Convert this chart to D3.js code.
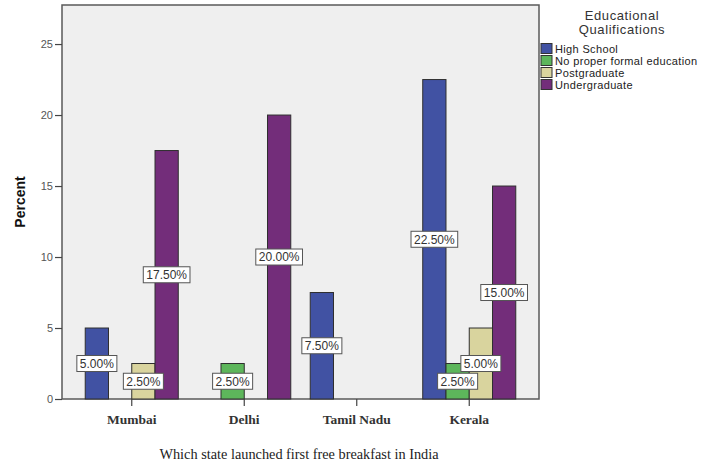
<!DOCTYPE html>
<html>
<head>
<meta charset="utf-8">
<script src="https://cdn.jsdelivr.net/npm/d3@7"></script>
<style>
  html, body { margin: 0; padding: 0; background: #fff; }
  svg { display: block; }
</style>
</head>
<body>
<svg id="chart" width="707" height="465"></svg>
<script>
// ---- data ----
const categories = ["Mumbai", "Delhi", "Tamil Nadu", "Kerala"];
const seriesNames = ["High School", "No proper formal education", "Postgraduate", "Undergraduate"];
const highSchool   = [5.0, 0, 7.5, 22.5];
const noFormal     = [0, 2.5, 0, 2.5];
const postgraduate = [2.5, 0, 0, 5.0];
const undergrad    = [17.5, 20.0, 0, 15.0];
const yTicks = [0, 5, 10, 15, 20, 25];
const legendTitle = ["Educational", "Qualifications"];
const yTitle = "Percent";
const xTitle = "Which state launched first free breakfast in India";

const seriesValues = [highSchool, noFormal, postgraduate, undergrad];
const colors = ["#4152a3", "#5db65b", "#d9d49e", "#732d7a"];

// ---- layout ----
const svg = d3.select("#chart");
const plot = { left: 62, right: 539, top: 5, bottom: 399 };

const y = d3.scaleLinear().domain([0, 27.75]).range([plot.bottom, plot.top]);
const x0 = d3.scaleBand().domain(categories).range([plot.left, plot.right])
  .paddingInner(0.173).paddingOuter(0.2065);
const x1 = d3.scaleBand().domain(seriesNames).range([0, x0.bandwidth()]).padding(0);
const color = d3.scaleOrdinal().domain(seriesNames).range(colors);

// plot background
svg.append("rect")
  .attr("x", plot.left).attr("y", plot.top)
  .attr("width", plot.right - plot.left).attr("height", plot.bottom - plot.top)
  .attr("fill", "#efefef").attr("stroke", "#5a5a5a").attr("stroke-width", 1.5);

// data table
const rows = [];
categories.forEach((c, ci) => {
  seriesNames.forEach((s, si) => {
    rows.push({ cat: c, series: s, value: seriesValues[si][ci] });
  });
});
const nonZero = rows.filter(d => d.value > 0);

// bars
svg.append("g").selectAll("rect")
  .data(nonZero).join("rect")
  .attr("x", d => x0(d.cat) + x1(d.series))
  .attr("y", d => y(d.value))
  .attr("width", x1.bandwidth())
  .attr("height", d => y(0) - y(d.value))
  .attr("fill", d => color(d.series))
  .attr("stroke", "#2f2f2f").attr("stroke-width", 1);

// y axis
const yAxis = d3.axisLeft(y).tickValues(yTicks).tickSize(7).tickPadding(2).tickFormat(d3.format("d"));
const gy = svg.append("g").attr("transform", `translate(${plot.left},0)`).call(yAxis);
gy.select(".domain").remove();
gy.selectAll(".tick line").attr("stroke", "#444").attr("stroke-width", 1.2);
gy.selectAll(".tick text").attr("fill", "#555").attr("font-family", "Arial, 'Liberation Sans', sans-serif").attr("font-size", 11);

// x axis
const xCenter = d => x0(d) + x0.bandwidth() / 2;
const xPoint = d3.scaleOrdinal().domain(categories).range(categories.map(xCenter));
const gx = svg.append("g");
gx.selectAll("line").data(categories).join("line")
  .attr("x1", d => xPoint(d)).attr("x2", d => xPoint(d))
  .attr("y1", plot.bottom).attr("y2", plot.bottom + 7)
  .attr("stroke", "#444").attr("stroke-width", 1.2);
gx.selectAll("text").data(categories).join("text")
  .attr("x", d => xPoint(d)).attr("y", 424)
  .attr("text-anchor", "middle")
  .attr("font-family", "'Liberation Serif', 'Times New Roman', serif")
  .attr("font-weight", "bold").attr("font-size", 13.5).attr("fill", "#333")
  .text(d => d);

// value labels
const labelG = svg.append("g");
const fmt = v => v.toFixed(2) + "%";
nonZero.forEach(d => {
  const cx = x0(d.cat) + x1(d.series) + x1.bandwidth() / 2;
  const cy = y(d.value / 2);
  const g = labelG.append("g").attr("transform", `translate(${cx},${cy})`);
  const t = g.append("text")
    .attr("text-anchor", "middle").attr("dy", "0.36em")
    .attr("font-family", "Arial, 'Liberation Sans', sans-serif")
    .attr("font-size", 12).attr("fill", "#333")
    .text(fmt(d.value));
  const w = t.node().getComputedTextLength() + 6;
  g.insert("rect", "text")
    .attr("x", -w / 2).attr("y", -8).attr("width", w).attr("height", 16)
    .attr("fill", "#fff").attr("stroke", "#555").attr("stroke-width", 1);
});

// y title
svg.append("text")
  .attr("transform", `translate(25,${(plot.top + plot.bottom) / 2}) rotate(-90)`)
  .attr("text-anchor", "middle")
  .attr("font-family", "Arial, 'Liberation Sans', sans-serif")
  .attr("font-weight", "bold").attr("font-size", 14).attr("fill", "#111")
  .text(yTitle);

// x title
svg.append("text")
  .attr("x", 299).attr("y", 459)
  .attr("text-anchor", "middle")
  .attr("font-family", "'Liberation Serif', 'Times New Roman', serif")
  .attr("font-size", 14.3).attr("fill", "#222")
  .text(xTitle);

// legend
const lg = svg.append("g");
lg.selectAll("text.title").data(legendTitle).join("text")
  .attr("class", "title")
  .attr("x", 622).attr("y", (d, i) => 20 + i * 14)
  .attr("text-anchor", "middle")
  .attr("font-family", "Arial, 'Liberation Sans', sans-serif")
  .attr("font-size", 13).attr("letter-spacing", 0.6).attr("fill", "#333")
  .text(d => d);
const items = lg.selectAll("g.item").data(seriesNames).join("g")
  .attr("class", "item")
  .attr("transform", (d, i) => `translate(541,${43.5 + i * 12})`);
items.append("rect")
  .attr("width", 11).attr("height", 10)
  .attr("fill", d => color(d)).attr("stroke", "#333").attr("stroke-width", 1);
items.append("text")
  .attr("x", 14).attr("y", 9)
  .attr("font-family", "Arial, 'Liberation Sans', sans-serif")
  .attr("font-size", 11).attr("letter-spacing", 0.35).attr("fill", "#222")
  .text(d => d);
</script>
</body>
</html>
